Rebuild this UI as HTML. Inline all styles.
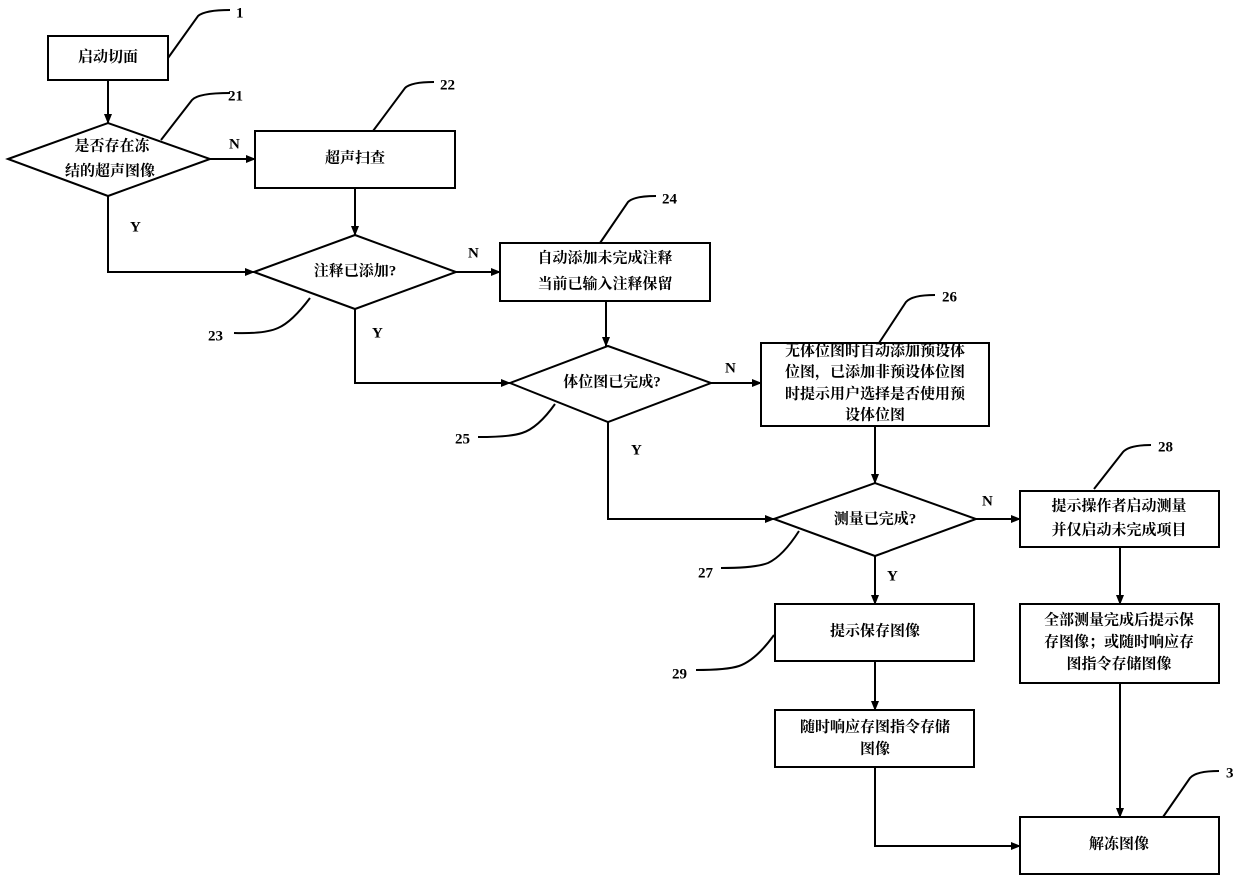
<!DOCTYPE html>
<html><head><meta charset="utf-8"><style>
html,body{margin:0;padding:0;background:#fff}
svg{display:block}
text{font-family:"Liberation Serif","Noto Serif CJK SC",serif;font-weight:bold;fill:#000}
.c{font-size:15px;text-anchor:middle;dominant-baseline:middle}
.l{font-size:15px;dominant-baseline:middle}
</style></head><body>
<svg width="1240" height="876" viewBox="0 0 1240 876" xmlns="http://www.w3.org/2000/svg">
<defs><marker id="a" markerWidth="10" markerHeight="10" refX="9" refY="5" orient="auto" markerUnits="userSpaceOnUse"><path d="M0,1 L10,5 L0,9 Z" fill="#000"/></marker></defs>
<g fill="none" stroke="#000" stroke-width="2">
<rect x="48" y="36" width="120" height="44"/>
<polygon points="8,159 108,123 210,159 108,196"/>
<rect x="255" y="131" width="200" height="57"/>
<polygon points="254,272 355,235 456,272 355,309"/>
<rect x="500" y="243" width="210" height="58"/>
<polygon points="510,383 608,346 711,383 608,422"/>
<rect x="761" y="343" width="228" height="83"/>
<polygon points="774,519 875,483 976,519 875,556"/>
<rect x="1020" y="491" width="199" height="56"/>
<rect x="1020" y="604" width="199" height="79"/>
<rect x="775" y="604" width="199" height="57"/>
<rect x="775" y="710" width="199" height="57"/>
<rect x="1020" y="817" width="199" height="57"/>
<path d="M108,80 V123" marker-end="url(#a)"/>
<path d="M210,159 H255" marker-end="url(#a)"/>
<path d="M355,188 V235" marker-end="url(#a)"/>
<path d="M108,196 V272 H254" marker-end="url(#a)"/>
<path d="M456,272 H500" marker-end="url(#a)"/>
<path d="M606,301 V346" marker-end="url(#a)"/>
<path d="M355,309 V383 H510" marker-end="url(#a)"/>
<path d="M711,383 H761" marker-end="url(#a)"/>
<path d="M875,426 V483" marker-end="url(#a)"/>
<path d="M608,422 V519 H774" marker-end="url(#a)"/>
<path d="M976,519 H1020" marker-end="url(#a)"/>
<path d="M1120,547 V604" marker-end="url(#a)"/>
<path d="M1120,683 V817" marker-end="url(#a)"/>
<path d="M875,556 V604" marker-end="url(#a)"/>
<path d="M875,661 V710" marker-end="url(#a)"/>
<path d="M875,767 V846 H1020" marker-end="url(#a)"/>
<path d="M168,58 L198,16 Q205,10 230,10"/>
<path d="M161,140 L192,100 Q198,93 230,93"/>
<path d="M373,131 L405,88 Q411,82 434,82"/>
<path d="M310,298 Q292,322 278,328 Q265,334 234,333"/>
<path d="M600,243 L628,202 Q634,196 656,196"/>
<path d="M555,404 Q538,428 522,433 Q510,437 478,437"/>
<path d="M879,343 L906,302 Q912,295 935,295"/>
<path d="M799,531 Q783,556 768,563 Q755,568 721,568"/>
<path d="M1094,489 L1123,452 Q1129,445 1151,445"/>
<path d="M774,635 Q756,660 739,666 Q727,670 696,670"/>
<path d="M1163,817 L1190,778 Q1196,771 1219,771"/>
</g>
<text class="c" x="108" y="58">启动切面</text>
<text class="c" x="112" y="147">是否存在冻</text>
<text class="c" x="110" y="172">结的超声图像</text>
<text class="c" x="355" y="159">超声扫查</text>
<text class="c" x="355" y="272">注释已添加?</text>
<text class="c" x="605" y="259">自动添加未完成注释</text>
<text class="c" x="605" y="285">当前已输入注释保留</text>
<text class="c" x="612" y="383">体位图已完成?</text>
<text class="c" x="875" y="352">无体位图时自动添加预设体</text>
<text class="c" x="875" y="373">位图，已添加非预设体位图</text>
<text class="c" x="875" y="395">时提示用户选择是否使用预</text>
<text class="c" x="875" y="416">设体位图</text>
<text class="c" x="875" y="520">测量已完成?</text>
<text class="c" x="1119" y="507">提示操作者启动测量</text>
<text class="c" x="1119" y="531">并仅启动未完成项目</text>
<text class="c" x="1119" y="621">全部测量完成后提示保</text>
<text class="c" x="1119" y="643">存图像；或随时响应存</text>
<text class="c" x="1119" y="665">图指令存储图像</text>
<text class="c" x="875" y="632">提示保存图像</text>
<text class="c" x="875" y="728">随时响应存图指令存储</text>
<text class="c" x="875" y="750">图像</text>
<text class="c" x="1119" y="845">解冻图像</text>
<text class="l" x="229" y="145">N</text>
<text class="l" x="130" y="228">Y</text>
<text class="l" x="468" y="254">N</text>
<text class="l" x="372" y="334">Y</text>
<text class="l" x="725" y="369">N</text>
<text class="l" x="631" y="451">Y</text>
<text class="l" x="982" y="502">N</text>
<text class="l" x="887" y="577">Y</text>
<text class="l" x="236" y="14">1</text>
<text class="l" x="228" y="97">21</text>
<text class="l" x="440" y="86">22</text>
<text class="l" x="208" y="337">23</text>
<text class="l" x="662" y="200">24</text>
<text class="l" x="455" y="440">25</text>
<text class="l" x="942" y="298">26</text>
<text class="l" x="698" y="574">27</text>
<text class="l" x="1158" y="448">28</text>
<text class="l" x="672" y="675">29</text>
<text class="l" x="1226" y="774">3</text>
</svg>
</body></html>
